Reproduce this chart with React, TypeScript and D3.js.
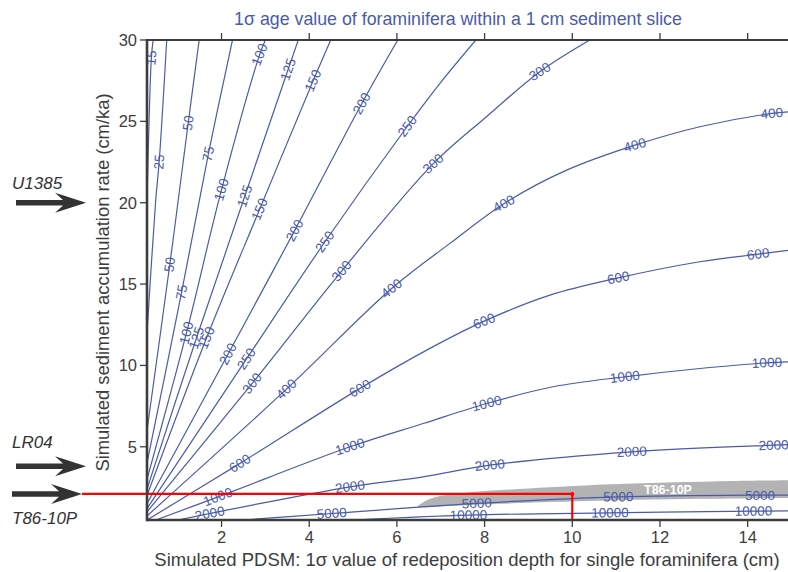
import React from "react";
import * as d3 from "d3";

type Pt = [number, number];

// axis ticks
const xTicks = [2, 4, 6, 8, 10, 12, 14];
const yTicks = [5, 10, 15, 20, 25, 30];

// contour lines: [depth sigma (cm), accumulation rate (cm/ka)]
const line15: Pt[] = [[0.44, 30], [0.4, 28.9], [0.3, 20]];
const line25: Pt[] = [[0.75, 30], [0.577, 22.5], [0.5, 20.2], [0.3, 12]];
const line50: Pt[] = [[1.49, 30], [1.24, 24.9], [0.82, 16.2], [0.3, 6]];
const line75: Pt[] = [[2.25, 30], [1.7, 23.0], [1.09, 14.5], [0.3, 4]];
const line100: Pt[] = [[3.0, 30], [2.87, 29.1], [2.0, 20.8], [1.2, 12.0], [0.3, 3]];
const line125: Pt[] = [[3.75, 30], [3.52, 28.2], [2.53, 20.4], [1.43, 11.7], [0.3, 2.4]];
const line150: Pt[] = [[4.49, 30], [4.09, 27.5], [2.87, 19.6], [1.66, 11.7], [0.3, 2]];
const line200: Pt[] = [[6.02, 30], [5.2, 26.1], [3.67, 18.3], [2.15, 10.7], [0.3, 1.5]];
const line250: Pt[] = [[7.8, 30], [7.0, 27.4], [6.24, 24.7], [4.36, 17.6], [2.57, 10.4], [0.3, 1.2]];
const line300: Pt[] = [[10.4, 30], [9.26, 28.05], [8.05, 25.3], [6.83, 22.4], [4.74, 15.8], [2.7, 8.9], [0.3, 1.0]];
const line400: Pt[] = [[15, 25.6], [14.55, 25.49], [12.91, 24.67], [11.43, 23.54], [9.87, 22.0], [8.44, 19.94], [7.21, 17.5], [5.88, 14.73], [3.48, 8.54], [0.3, 0.75]];
const line600: Pt[] = [[15, 17.1], [14.24, 16.84], [12.91, 16.37], [11.05, 15.38], [9.49, 14.32], [7.99, 12.72], [6.68, 10.94], [5.16, 8.59], [2.42, 3.98], [0.3, 0.5]];
const line1000: Pt[] = [[15, 10.22], [14.44, 10.16], [12.91, 9.81], [11.2, 9.3], [9.56, 8.69], [8.05, 7.66], [6.6, 6.43], [4.93, 5.0], [1.92, 1.92], [0.5, 0.5]];
const line2000: Pt[] = [[15, 5.14], [14.59, 5.1], [11.36, 4.69], [8.12, 3.87], [6.6, 3.15], [4.93, 2.54], [1.73, 0.9], [1.0, 0.5]];
const line5000: Pt[] = [[15, 2.03], [14.28, 2.03], [11.05, 1.92], [7.82, 1.52], [4.51, 0.9], [2.5, 0.5]];
const line10000: Pt[] = [[15, 1.06], [14.13, 1.04], [10.86, 0.94], [7.63, 0.8], [5.0, 0.5]];

// where the level labels sit
const lab15: Pt[] = [[0.4, 28.9]];
const lab25: Pt[] = [[0.577, 22.5]];
const lab50: Pt[] = [[1.24, 24.9], [0.82, 16.2]];
const lab75: Pt[] = [[1.7, 23.0], [1.09, 14.5]];
const lab100: Pt[] = [[2.87, 29.1], [2.0, 20.8], [1.2, 12.0]];
const lab125: Pt[] = [[3.52, 28.2], [2.53, 20.4], [1.43, 11.7]];
const lab150: Pt[] = [[4.09, 27.5], [2.87, 19.6], [1.66, 11.7]];
const lab200: Pt[] = [[5.2, 26.1], [3.67, 18.3], [2.15, 10.7]];
const lab250: Pt[] = [[6.24, 24.7], [4.36, 17.6], [2.57, 10.4]];
const lab300: Pt[] = [[9.26, 28.05], [6.83, 22.4], [4.74, 15.8], [2.7, 8.9]];
const lab400: Pt[] = [[14.55, 25.49], [11.43, 23.54], [8.44, 19.94], [5.88, 14.73], [3.48, 8.54]];
const lab600: Pt[] = [[14.24, 16.84], [11.05, 15.38], [7.99, 12.72], [5.16, 8.59], [2.42, 3.98]];
const lab1000: Pt[] = [[14.44, 10.16], [11.2, 9.3], [8.05, 7.66], [4.93, 5.0], [1.92, 1.92]];
const lab2000: Pt[] = [[14.59, 5.1], [11.36, 4.69], [8.12, 3.87], [4.93, 2.54], [1.73, 0.9]];
const lab5000: Pt[] = [[14.28, 2.03], [11.05, 1.92], [7.82, 1.52], [4.51, 0.9]];
const lab10000: Pt[] = [[14.13, 1.04], [10.86, 0.94], [7.63, 0.8]];

// grey T86-10P field
const t86Upper: Pt[] = [[6.45, 1.3], [6.64, 1.66], [6.98, 1.97], [7.67, 2.21], [8.5, 2.36], [9.49, 2.52], [10.4, 2.64], [11.77, 2.77], [13.37, 2.88], [15.3, 2.96]];
const t86Lower: Pt[] = [[15.3, 1.86], [12.91, 1.8], [10.63, 1.68], [8.35, 1.5], [7.21, 1.37], [6.8, 1.32]];

// cores marked with arrows
const sites = ["U1385", "LR04", "T86-10P"];
const siteRates = [20, 3.8, 2.1];
const t86Depth = 10;

const contours = [
  { level: 15, pts: line15, labs: lab15 },
  { level: 25, pts: line25, labs: lab25 },
  { level: 50, pts: line50, labs: lab50 },
  { level: 75, pts: line75, labs: lab75 },
  { level: 100, pts: line100, labs: lab100 },
  { level: 125, pts: line125, labs: lab125 },
  { level: 150, pts: line150, labs: lab150 },
  { level: 200, pts: line200, labs: lab200 },
  { level: 250, pts: line250, labs: lab250 },
  { level: 300, pts: line300, labs: lab300 },
  { level: 400, pts: line400, labs: lab400 },
  { level: 600, pts: line600, labs: lab600 },
  { level: 1000, pts: line1000, labs: lab1000 },
  { level: 2000, pts: line2000, labs: lab2000 },
  { level: 5000, pts: line5000, labs: lab5000 },
  { level: 10000, pts: line10000, labs: lab10000 },
];

const BLUE = "#4a5ba9";
const AXIS = "#3d3d3d";
const FONT = "'Liberation Sans', Arial, Helvetica, sans-serif";

export default function App() {
  const width = 788;
  const height = 572;
  const x = d3.scaleLinear().domain([0.3, 15]).range([147, 791.5]);
  const y = d3.scaleLinear().domain([0.5, 30]).range([520, 40]);
  const x0 = x.range()[0];
  const x1 = x.range()[1];
  const yTop = y.range()[1];
  const yBot = y.range()[0];

  const line = d3
    .line<Pt>()
    .x((d) => x(d[0]))
    .y((d) => y(d[1]))
    .curve(d3.curveCatmullRom.alpha(0.5));

  // upper edge, then lower edge, closed
  const field = (line(t86Upper) || "") + (line(t86Lower) || "").replace(/^M/, "L") + "Z";

  // snap a label to the nearest segment and turn it along the line
  const place = (pts: Pt[], lab: Pt) => {
    const px = pts.map((p) => [x(p[0]), y(p[1])]);
    const lx = x(lab[0]);
    const ly = y(lab[1]);
    let best = { d: Infinity, x: lx, y: ly, a: 0 };
    for (let i = 0; i < px.length - 1; i++) {
      const [ax, ay] = px[i];
      const [bx, by] = px[i + 1];
      const dx = bx - ax;
      const dy = by - ay;
      const len2 = dx * dx + dy * dy;
      let t = ((lx - ax) * dx + (ly - ay) * dy) / len2;
      t = Math.max(0, Math.min(1, t));
      const qx = ax + t * dx;
      const qy = ay + t * dy;
      const d = Math.hypot(qx - lx, qy - ly);
      if (d < best.d) {
        let a = (Math.atan2(dy, dx) * 180) / Math.PI;
        if (a > 90) a -= 180;
        if (a < -90) a += 180;
        best = { d, x: qx, y: qy, a };
      }
    }
    return best;
  };

  const arrow = "M-70,-2.8 L-23,-2.8 L-31,-10 L0,0 L-31,10 L-23,2.8 L-70,2.8 Z";
  const tipX = [86, 86, 82];
  const labelDy = [-14, -18, 30];

  return (
    <svg
      width={width}
      height={height}
      style={{ position: "absolute", left: 0, top: 0, background: "#fff" }}
      fontFamily={FONT}
    >
      <defs>
        <clipPath id="plot">
          <rect x={x0} y={yTop} width={x1 - x0} height={yBot - yTop} />
        </clipPath>
      </defs>

      <text x={458} y={25} textAnchor="middle" fontSize={17.8} fill={BLUE}>
        1σ age value of foraminifera within a 1 cm sediment slice
      </text>

      <g clipPath="url(#plot)">
        <path d={field} fill="#b3b3b3" />
        {contours.map((c) => (
          <path key={c.level} d={line(c.pts) || ""} fill="none" stroke={BLUE} strokeWidth={1.2} />
        ))}
        {contours.map((c) =>
          c.labs.map((l, i) => {
            const p = place(c.pts, l);
            return (
              <text
                key={`${c.level}-${i}`}
                transform={`translate(${p.x},${p.y}) rotate(${p.a})`}
                textAnchor="middle"
                dominantBaseline="central"
                fontSize={13.5}
                fill={BLUE}
              >
                {c.level}
              </text>
            );
          })
        )}
        <text x={668} y={490} textAnchor="middle" dominantBaseline="central" fontSize={12.5} fontWeight="bold" fill="#fff">
          T86-10P
        </text>
      </g>

      {/* red marker for T86-10P */}
      <line x1={tipX[2]} x2={x(t86Depth)} y1={y(siteRates[2])} y2={y(siteRates[2])} stroke="#ff0000" strokeWidth={2.2} />
      <line x1={x(t86Depth)} x2={x(t86Depth)} y1={y(siteRates[2])} y2={yBot} stroke="#ff0000" strokeWidth={2.2} />
      <circle cx={x(t86Depth)} cy={y(siteRates[2])} r={2} fill="#ff0000" />

      {/* axes */}
      <line x1={x0} x2={x1} y1={yTop} y2={yTop} stroke={AXIS} strokeWidth={1.8} />
      <line x1={x0} x2={x1} y1={yBot} y2={yBot} stroke={AXIS} strokeWidth={2.6} />
      <line x1={x0} x2={x0} y1={yTop - 1} y2={yBot + 1.3} stroke={AXIS} strokeWidth={2.6} />
      {xTicks.map((t) => (
        <g key={t}>
          <line x1={x(t)} x2={x(t)} y1={yBot} y2={yBot + 7} stroke={AXIS} strokeWidth={1.3} />
          <line x1={x(t)} x2={x(t)} y1={yTop} y2={yTop - 7} stroke={AXIS} strokeWidth={1.3} />
          <text x={x(t)} y={543} textAnchor="middle" fontSize={16.5} fill={AXIS}>
            {t}
          </text>
        </g>
      ))}
      {yTicks.map((t) => (
        <g key={t}>
          <line x1={x0} x2={x0 - 7} y1={y(t)} y2={y(t)} stroke={AXIS} strokeWidth={1.3} />
          <text x={137} y={y(t)} textAnchor="end" dominantBaseline="central" fontSize={16.5} fill={AXIS}>
            {t}
          </text>
        </g>
      ))}

      <text x={467} y={566} textAnchor="middle" fontSize={18.5} fill={AXIS}>
        Simulated PDSM: 1σ value of redeposition depth for single foraminifera (cm)
      </text>
      <text transform="translate(109,282.5) rotate(-90)" textAnchor="middle" fontSize={18.4} fill={AXIS}>
        Simulated sediment accumulation rate (cm/ka)
      </text>

      {/* site arrows */}
      {sites.map((s, i) => (
        <g key={s}>
          <path d={arrow} transform={`translate(${tipX[i]},${y(siteRates[i])})`} fill="#333" />
          <text x={12} y={y(siteRates[i]) + labelDy[i]} fontSize={17} fontStyle="italic" fill="#333">
            {s}
          </text>
        </g>
      ))}
    </svg>
  );
}
